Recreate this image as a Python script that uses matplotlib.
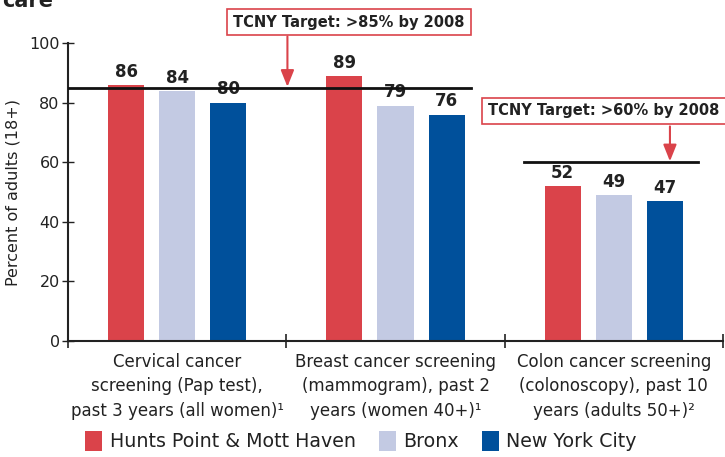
import matplotlib
matplotlib.use("Agg")
import matplotlib.pyplot as plt
import numpy as np
from matplotlib.patches import Patch

categories = ["Cervical cancer\nscreening (Pap test),\npast 3 years (all women)¹",
              "Breast cancer screening\n(mammogram), past 2\nyears (women 40+)¹",
              "Colon cancer screening\n(colonoscopy), past 10\nyears (adults 50+)²"]
series_names = ["Hunts Point & Mott Haven", "Bronx", "New York City"]
hunts = [86, 89, 52]
bronx = [84, 79, 49]
nyc = [80, 76, 47]
targets = [85, 60]
target_texts = ["TCNY Target: >85% by 2008", "TCNY Target: >60% by 2008"]
yticks = [0, 20, 40, 60, 80, 100]

colors = ["#DA434A", "#C3CAE3", "#00509B"]
txt = "#222222"

plt.rcParams['font.family'] = ['DejaVu Sans']
fig = plt.figure(figsize=(7.25, 4.57), dpi=100)
ax = fig.add_axes([68/725, 1-341/457, (723-68)/725, (341-43)/457])

x = np.arange(len(categories))
w = 0.165
off = 0.234
for i, (vals, c) in enumerate(zip([hunts, bronx, nyc], colors)):
    xs = x + (i - 1) * off
    ax.bar(xs, vals, width=w, color=c, zorder=2)
    for xi, v in zip(xs, vals):
        ax.text(xi, v + 1.4, f"{v}", ha="center", va="bottom", fontsize=12,
                fontweight="bold", color=txt)

ax.set_xlim(-0.5, 2.5)
ax.set_ylim(0, 100)

# target lines
ax.plot([-0.5, 1.344], [targets[0]] * 2, color="#111111", lw=2, zorder=3)
ax.plot([1.59, 2.385], [targets[1]] * 2, color="#111111", lw=2, zorder=3)

# annotation boxes
bbox = dict(boxstyle="square,pad=0.4", fc="white", ec="#DA434A", lw=1.2)
arrowprops = dict(arrowstyle="-|>,head_width=0.4,head_length=1.0", color="#DA434A",
                  lw=1.5, shrinkA=0, shrinkB=0)
fig.text(349/725, 1-22/457, target_texts[0], ha="center", va="center",
         fontsize=10.5, fontweight="bold", color=txt, bbox=bbox, zorder=5)
fig.text(604/725, 1-111/457, target_texts[1], ha="center", va="center",
         fontsize=10.5, fontweight="bold", color=txt, bbox=bbox, zorder=5)
ax.annotate("", xy=(0.505, targets[0] + 0.3), xytext=(0.505, 102.2),
            arrowprops=arrowprops, annotation_clip=False, zorder=4)
ax.annotate("", xy=(2.257, targets[1] + 0.3), xytext=(2.257, 72.0),
            arrowprops=arrowprops, annotation_clip=False, zorder=4)

# axes styling
for s in ["top", "right"]:
    ax.spines[s].set_visible(False)
for s in ["left", "bottom"]:
    ax.spines[s].set_color(txt)
    ax.spines[s].set_linewidth(1.5)
ax.set_yticks(yticks)
ax.tick_params(axis="y", direction="inout", length=8, width=1, colors=txt,
               labelsize=11.5, pad=2)
ax.set_xticks([-0.5, 0.5, 1.5, 2.5])
ax.set_xticklabels([])
ax.tick_params(axis="x", direction="inout", length=10, width=1.2, colors=txt)
for xi, c in zip(x, categories):
    ax.text(xi, -4.0, c, ha="center", va="top", fontsize=12, color=txt,
            linespacing=1.45, transform=ax.transData)
ax.set_ylabel("Percent of adults (18+)", fontsize=11.5, color=txt, labelpad=6)

# legend
handles = [Patch(fc=c, ec="none") for c in colors]
fig.legend(handles, series_names, loc="center", bbox_to_anchor=(361/725, 1-441/457),
           ncol=3, frameon=False, fontsize=13.7, handlelength=0.9, handleheight=1.3,
           handletextpad=0.4, columnspacing=1.2, labelcolor=txt)

fig.text(2/725, 1-7/457, "care", fontsize=15, fontweight="bold", color=txt,
         ha="left", va="baseline")

fig.savefig("out.png", dpi=100)
